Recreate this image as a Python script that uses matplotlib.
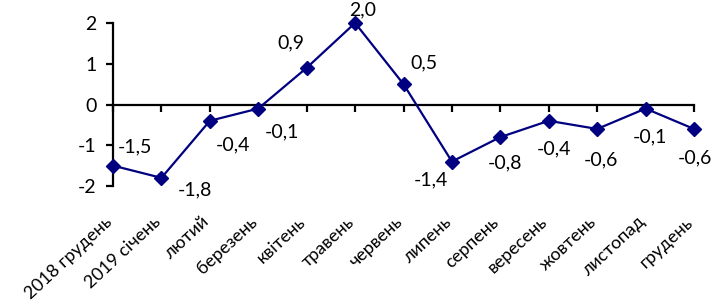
import matplotlib.pyplot as plt
from matplotlib import transforms

plt.rcParams['font.family'] = ['Lato', 'DejaVu Sans']

months = ['2018 грудень', '2019 січень', 'лютий', 'березень', 'квітень', 'травень',
          'червень', 'липень', 'серпень', 'вересень', 'жовтень', 'листопад', 'грудень']
values = [-1.5, -1.8, -0.4, -0.1, 0.9, 2.0, 0.5, -1.4, -0.8, -0.4, -0.6, -0.1, -0.6]
yticks = [-2, -1, 0, 1, 2]

# label offsets in pixels (dx, dy), hand placed like the original
offsets = [(22, 19), (34, -12), (23, -24), (24, -23), (-16, 25), (8, 13), (20, 21),
           (-21, -18), (5, -26), (5, -28), (4, -31), (4, -28), (1, -29)]

color = '#000080'
fs = 14
fig = plt.figure(figsize=(7.15, 3.05), dpi=100)
ax = fig.add_axes([113 / 715, (305 - 186) / 305, (694 - 113) / 715, 163 / 305])

x = list(range(len(values)))
ax.plot(x, values, color=color, lw=1.6, marker='D', ms=7, clip_on=False, zorder=3)

for xi, v, (dx, dy) in zip(x, values, offsets):
    ax.annotate(f'{v:.1f}'.replace('.', ','), (xi, v), xytext=(dx * 0.72, dy * 0.72),
                textcoords='offset points', ha='center', va='center', fontsize=fs,
                annotation_clip=False)

ax.set_xlim(0, len(values) - 1)
ax.set_ylim(-2, 2)
for s in ['top', 'right']:
    ax.spines[s].set_visible(False)
ax.spines['bottom'].set_position(('data', 0))
ax.spines['left'].set_linewidth(1.6)
ax.spines['bottom'].set_linewidth(1.6)
ax.set_yticks(yticks)
ax.set_yticklabels([str(t) for t in yticks], fontsize=fs)
ax.set_xticks(x)
ax.set_xticklabels([])
ax.tick_params(axis='both', direction='out', length=5, width=1.6)
ax.tick_params(axis='y', pad=7)

trans = transforms.blended_transform_factory(ax.transData, ax.transAxes)
shift = transforms.ScaledTranslation(-9 / 100, 0, fig.dpi_scale_trans)
for xi, m in zip(x, months):
    ax.text(xi, -0.17, m, transform=trans + shift, rotation=43, rotation_mode='anchor',
            ha='right', va='top', fontsize=13, clip_on=False)

fig.savefig('out.png', dpi=100)
